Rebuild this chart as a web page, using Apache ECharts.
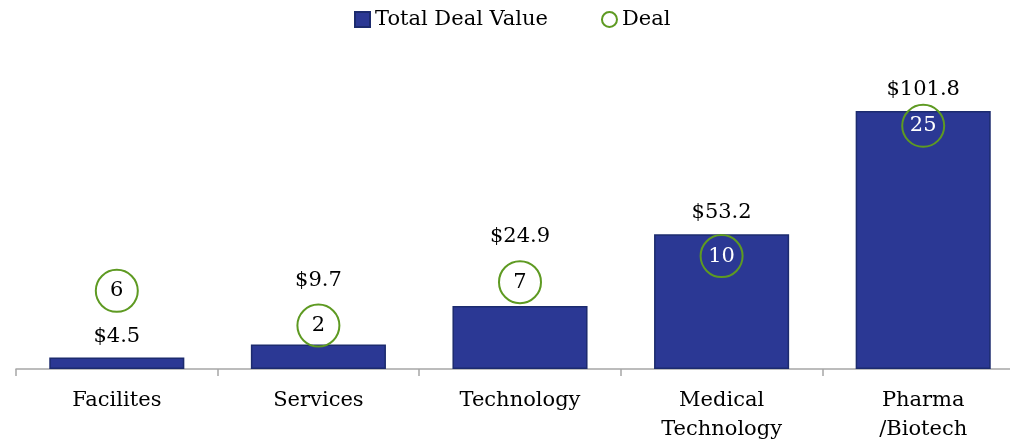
<!DOCTYPE html>
<html>
<head>
<meta charset="utf-8">
<script src="https://cdn.jsdelivr.net/npm/echarts@6/dist/echarts.min.js"></script>
<style>
  html, body { margin: 0; padding: 0; background: #fff; }
  #chart { width: 1010px; height: 442px; }
</style>
</head>
<body>
<div id="chart"></div>
<script>
// categories and values
const categories = ['Facilites', 'Services', 'Technology', 'Medical\nTechnology', 'Pharma\n/Biotech'];
const dealValue = [4.5, 9.7, 24.9, 53.2, 101.8];
const dealCount = [6, 2, 7, 10, 25];

const FONT = 'DejaVu Serif';
const BAR = '#2b3894';
const GREEN = '#5e9a22';

// where the circle sits above the bar, the $ label goes over the circle
const labelOverCircle = [false, true, true, false, false];
// circle sits inside the bar -> white number
const circleInBar = [false, false, false, true, true];

const chart = echarts.init(document.getElementById('chart'));

chart.setOption({
  animation: false,
  textStyle: { fontFamily: FONT },
  legend: {
    top: 4,
    left: 349,
    itemGap: 53,
    itemWidth: 15,
    itemHeight: 15,
    textStyle: { fontFamily: FONT, fontSize: 21, color: '#000' },
    data: [
      { name: 'Total Deal Value', icon: 'rect' },
      { name: 'Deal', icon: 'circle', itemStyle: { color: '#fff', borderColor: GREEN, borderWidth: 2, opacity: 1 } }
    ]
  },
  grid: { left: 16, width: 1008, top: 65, bottom: 73, outerBoundsMode: 'none', containLabel: false },
  xAxis: {
    type: 'category',
    data: categories,
    axisLine: { lineStyle: { color: '#a6a6a6', width: 1.5 } },
    axisTick: { show: true, length: 7, lineStyle: { color: '#a6a6a6', width: 1.5 } },
    axisLabel: { fontFamily: FONT, fontSize: 21, color: '#000', margin: 17, lineHeight: 29, interval: 0 }
  },
  yAxis: [
    { type: 'value', min: 0, max: 120, show: false, splitLine: { show: false } },
    { type: 'value', min: -3, max: 32, show: false, splitLine: { show: false } }
  ],
  series: [
    {
      name: 'Total Deal Value',
      type: 'bar',
      barCategoryGap: '33%',
      itemStyle: { color: BAR, borderColor: '#1c2b6e', borderWidth: 1.5 },
      data: dealValue.map((v, i) => ({
        value: v,
        label: { show: !labelOverCircle[i] }
      })),
      label: {
        position: 'top',
        distance: 11,
        fontFamily: FONT,
        fontSize: 21,
        color: '#000',
        formatter: p => '$' + p.value.toFixed(1)
      },
      z: 2
    },
    {
      name: 'Deal',
      type: 'scatter',
      yAxisIndex: 1,
      symbol: 'circle',
      symbolSize: 42,
      itemStyle: { color: 'rgba(0,0,0,0)', borderColor: GREEN, borderWidth: 2, opacity: 1 },
      data: dealCount.map((v, i) => ({
        value: v,
        label: { color: circleInBar[i] ? '#fff' : '#000' }
      })),
      label: {
        show: true,
        position: 'inside',
        fontFamily: FONT,
        fontSize: 21,
        formatter: p => String(p.value)
      },
      z: 3
    },
    {
      // $ labels that ride above the circle
      name: 'labels',
      type: 'scatter',
      yAxisIndex: 1,
      symbolSize: 42,
      itemStyle: { color: 'rgba(0,0,0,0)', opacity: 1 },
      silent: true,
      data: dealCount.map((v, i) => labelOverCircle[i] ? v : '-'),
      label: {
        show: true,
        position: 'top',
        distance: 14,
        fontFamily: FONT,
        fontSize: 21,
        color: '#000',
        formatter: p => '$' + dealValue[p.dataIndex].toFixed(1)
      },
      z: 4
    }
  ]
});
</script>
</body>
</html>
